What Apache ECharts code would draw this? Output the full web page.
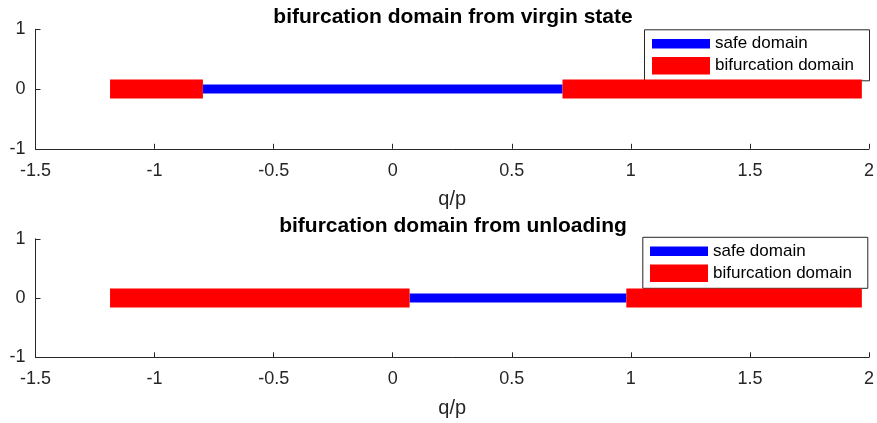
<!DOCTYPE html>
<html><head><meta charset="utf-8">
<script src="https://cdn.jsdelivr.net/npm/echarts@6/dist/echarts.min.js"></script>
<style>html,body{margin:0;padding:0;background:#fff}#c{width:877px;height:423px}</style>
</head><body><div id="c"></div>
<script>
// data: domain boundaries in q/p
var titles = ['bifurcation domain from virgin state', 'bifurcation domain from unloading'];
var virginBif1 = [-1.187, -0.797];
var virginSafe = [-0.797, 0.713];
var virginBif2 = [0.713, 1.970];
var unloadBif1 = [-1.187, 0.071];
var unloadSafe = [0.071, 0.981];
var unloadBif2 = [0.981, 1.970];
var xTicks = [-1.5, -1, -0.5, 0, 0.5, 1, 1.5, 2];
var yTicks = [-1, 0, 1];

var axisCol = '#262626';
var font = 'Liberation Sans, Arial, Helvetica, sans-serif';
var panels = [
  {top: 29.3, height: 119.5, safe: virginSafe, bif: [virginBif1, virginBif2], legLeft: 652, boxLeft: 644, boxTop: 29.3},
  {top: 238.8, height: 118.5, safe: unloadSafe, bif: [unloadBif1, unloadBif2], legLeft: 650, boxLeft: 642.3, boxTop: 236.8}
];
var grids = [], xAxes = [], yAxes = [], series = [], title = [], legend = [], graphic = [];
panels.forEach(function (p, i) {
  grids.push({left: 35.5, right: 6.5, top: p.top, height: p.height, containLabel: false});
  xAxes.push({type: 'value', gridIndex: i, min: xTicks[0], max: xTicks[xTicks.length-1], interval: 0.5,
    name: 'q/p', nameLocation: 'middle', nameGap: 41,
    nameTextStyle: {fontSize: 20, color: axisCol, fontFamily: font},
    axisLine: {onZero: false, lineStyle: {color: axisCol, width: 1}},
    axisTick: {inside: true, length: 5, lineStyle: {color: axisCol}},
    axisLabel: {fontSize: 18, color: axisCol, fontFamily: font, margin: 13},
    splitLine: {show: false}});
  yAxes.push({type: 'value', gridIndex: i, min: yTicks[0], max: yTicks[yTicks.length-1], interval: 1,
    axisLine: {show: true, onZero: false, lineStyle: {color: axisCol, width: 1}},
    axisTick: {show: true, inside: true, length: 5, lineStyle: {color: axisCol}},
    axisLabel: {fontSize: 18, color: axisCol, fontFamily: font, margin: 10},
    splitLine: {show: false}});
  series.push({name: 'safe domain', type: 'line', xAxisIndex: i, yAxisIndex: i, showSymbol: false, symbol: 'none',
    data: [[p.safe[0], 0], [p.safe[1], 0]], lineStyle: {color: '#0000ff', width: 9, cap: 'butt'}, z: 2, silent: true});
  p.bif.forEach(function (b) {
    series.push({name: 'bifurcation domain', type: 'line', xAxisIndex: i, yAxisIndex: i, showSymbol: false, symbol: 'none',
      data: [[b[0], 0], [b[1], 0]], lineStyle: {color: '#ff0000', width: 19, cap: 'butt'}, itemStyle: {color: '#ff0000'}, z: 3, silent: true});
  });
  title.push({text: titles[i], left: 448, top: p.top - 28, textAlign: 'center',
    textStyle: {fontSize: 21, fontWeight: 'bold', color: '#000', fontFamily: font}});
  var bt = p.boxTop;
  legend.push({data: [{name: 'safe domain', icon: 'rect', itemStyle: {color: '#0000ff'}}], left: p.legLeft, top: bt + 6, padding: 0,
    itemWidth: 58, itemHeight: 9.5, itemGap: 0, textStyle: {fontSize: 17, color: '#000', fontFamily: font}, selectedMode: false});
  legend.push({data: [{name: 'bifurcation domain', icon: 'rect', itemStyle: {color: '#ff0000'}}], left: p.legLeft, top: bt + 27.7, padding: 0,
    itemWidth: 58, itemHeight: 17.5, itemGap: 0, textStyle: {fontSize: 17, color: '#000', fontFamily: font}, selectedMode: false});
  graphic.push({type: 'rect', left: p.boxLeft, top: bt, shape: {width: 225, height: 51}, z: -1,
    style: {fill: '#fff', stroke: axisCol, lineWidth: 1}});
});
var chart = echarts.init(document.getElementById('c'), null, {renderer: 'canvas'});
chart.setOption({animation: false, backgroundColor: '#fff', title: title, legend: legend, grid: grids,
  xAxis: xAxes, yAxis: yAxes, series: series, graphic: graphic});
</script></body></html>
